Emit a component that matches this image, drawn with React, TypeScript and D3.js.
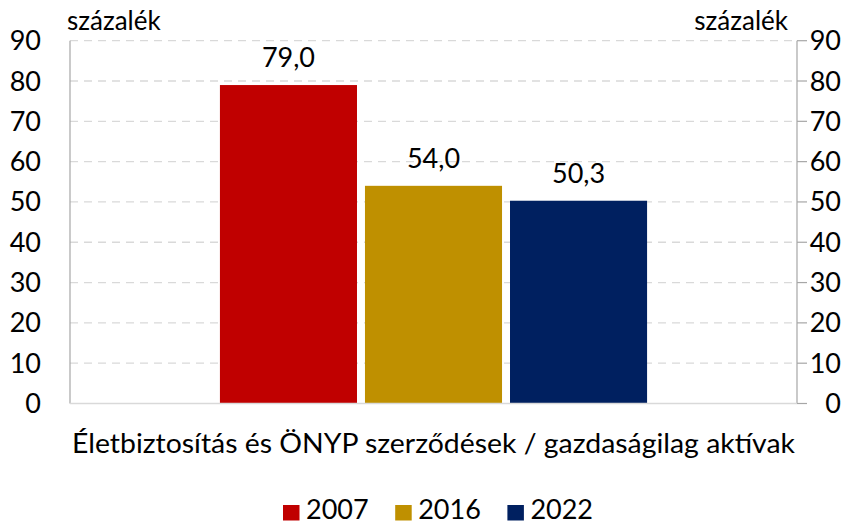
import React from "react";
import * as d3 from "d3";

const categories = ["Életbiztosítás és ÖNYP szerződések / gazdaságilag aktívak"];
const seriesNames = ["2007", "2016", "2022"];
const seriesValues = [79.0, 54.0, 50.3];
const seriesColors = ["#C00000", "#BF9000", "#002060"];
const yTicks = [0, 10, 20, 30, 40, 50, 60, 70, 80, 90];
const unitLabel = "százalék";

const W = 861;
const H = 525;
const FONT = "Lato, 'Open Sans', sans-serif";

export default function App() {
  const left = 70;
  const right = 797;
  const top = 40.7;
  const bottom = 403.5;

  const y = d3.scaleLinear().domain([0, 90]).range([bottom, top]);
  const x0 = d3.scaleBand().domain(categories).range([left, right]).paddingInner(0).paddingOuter(0.351);
  const x1 = d3.scaleBand().domain(seriesNames).range([0, x0.bandwidth()]).paddingInner(0.055);

  const fmt = (v: number) => v.toFixed(1).replace(".", ",");
  const fs = 27;

  return (
    <svg width={W} height={H} style={{ position: "absolute", left: 0, top: 0, background: "#fff" }} fontFamily={FONT}>
      {yTicks.filter((t) => t > 0).map((t) => (
        <line key={"g" + t} x1={left} x2={right} y1={y(t)} y2={y(t)} stroke="#D9D9D9" strokeWidth={1.3} strokeDasharray="8,6" />
      ))}
      {categories.map((c) =>
        seriesNames.map((s, i) => {
          const bx = (x0(c) as number) + (x1(s) as number);
          return (
            <g key={s}>
              <rect x={bx} y={y(seriesValues[i])} width={x1.bandwidth()} height={y(0) - y(seriesValues[i])} fill={seriesColors[i]} />
              <text x={bx + x1.bandwidth() / 2} y={y(seriesValues[i]) - 18} textAnchor="middle" fontSize={fs} fill="#000">
                {fmt(seriesValues[i])}
              </text>
            </g>
          );
        })
      )}
      <line x1={left} x2={left} y1={top} y2={bottom} stroke="#A6A6A6" strokeWidth={1.2} />
      <line x1={right} x2={right} y1={top} y2={bottom} stroke="#A6A6A6" strokeWidth={1.2} />
      <line x1={left} x2={right} y1={bottom} y2={bottom} stroke="#D9D9D9" strokeWidth={1.3} />
      {yTicks.map((t) => (
        <g key={"t" + t}>
          <line x1={right} x2={right + 10} y1={y(t)} y2={y(t)} stroke="#A6A6A6" strokeWidth={1.2} />
          <text x={41} y={y(t) + 9.5} textAnchor="end" fontSize={fs} fill="#000">{t}</text>
          <text x={841} y={y(t) + 9.5} textAnchor="end" fontSize={fs} fill="#000">{t}</text>
        </g>
      ))}
      <text x={67} y={30} fontSize={26} fill="#000">{unitLabel}</text>
      <text x={788} y={30} fontSize={26} textAnchor="end" fill="#000">{unitLabel}</text>
      {categories.map((c) => (
        <text key={c} x={(x0(c) as number) + x0.bandwidth() / 2} y={453} textAnchor="middle" fontSize={fs} fill="#000"
          textLength={723} lengthAdjust="spacingAndGlyphs">{c}</text>
      ))}
      {seriesNames.map((s, i) => {
        const lx = 283 + i * 112.2;
        return (
          <g key={"l" + s}>
            <rect x={lx} y={505} width={16.5} height={15.5} fill={seriesColors[i]} />
            <text x={lx + 23} y={519} fontSize={27} fill="#000">{s}</text>
          </g>
        );
      })}
    </svg>
  );
}
